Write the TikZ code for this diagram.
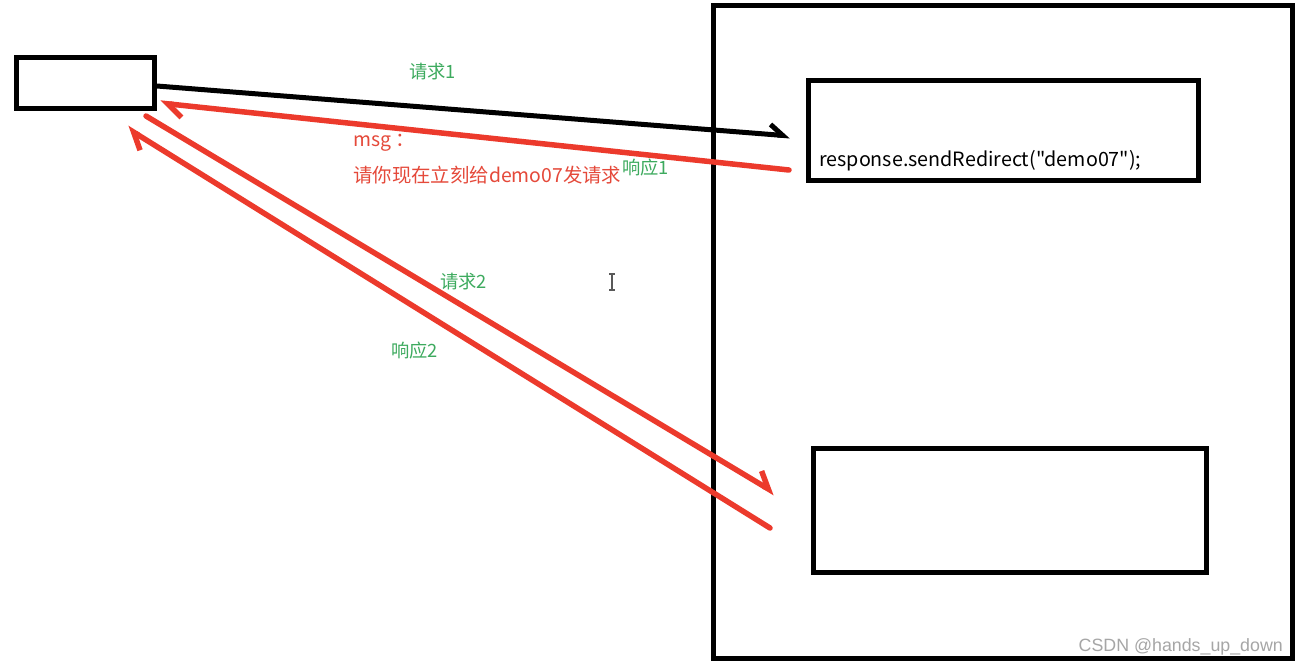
\documentclass[tikz,border=0pt]{standalone}
\usepackage{fontspec}
\setmainfont{Noto Sans CJK SC}
\newfontfamily\codefont{Noto Sans CJK SC}[Ligatures=TeXOff]
\newfontfamily\wmfont{Liberation Sans}
\usetikzlibrary{arrows.meta}
\definecolor{arrred}{HTML}{EC3A2C}
\definecolor{lblgreen}{HTML}{3DAA5E}
\definecolor{msgred}{HTML}{E5493A}
\begin{document}
\begin{tikzpicture}[x=1pt,y=1pt,
  box/.style={draw=black,line width=5pt,rectangle,inner sep=0pt},
  blackarr/.style={draw=black,line width=5pt,line cap=round,-{Straight Barb[harpoon,length=13pt,width=20pt,line width=5pt]}},
  redarr/.style={draw=arrred,line width=5.5pt,line cap=round,-{Straight Barb[harpoon,length=15pt,width=24pt,line width=5.5pt]}},
  lbl/.style={text=lblgreen,font=\fontsize{18.3}{20}\selectfont,inner sep=0pt,anchor=west},
  msg/.style={text=msgred,font=\fontsize{19.4}{22}\selectfont,inner sep=0pt,anchor=west}]
\useasboundingbox (0,0) rectangle (1297,-665);
\fill[white] (0,0) rectangle (1297,-665);
% boxes
\node[box,minimum width=138pt,minimum height=51pt] (client) at (85,-82.5) {};
\node[box,minimum width=579pt,minimum height=653pt] (server) at (1002.5,-331.5) {};
\node[box,minimum width=390pt,minimum height=100pt] (s1) at (1003,-130) {};
\node[box,minimum width=393pt,minimum height=124pt] (s2) at (1009.5,-510) {};
\node[anchor=base west,inner sep=0pt,font=\codefont\fontsize{19.7}{22}\selectfont] (code) at (819,-166) {response.sendRedirect("demo07");};
% connector endpoints
\coordinate (c1) at (157,-86);
\coordinate (s1in) at (790,-136);
\coordinate (s1out) at (789,-170);
\coordinate (c2) at (160,-103);
\coordinate (c3) at (146,-116);
\coordinate (s2in) at (775,-493);
\coordinate (s2out) at (770,-528);
\coordinate (c4) at (127,-128);
% arrows
\draw[blackarr] (c1) -- (s1in);
\draw[redarr] (s1out) -- (c2);
\draw[redarr] (c3) -- (s2in);
\draw[redarr] (s2out) -- (c4);
% labels
\node[lbl] (q1) at (409,-72) {请求1};
\node[lbl] (r1) at (622,-168) {响应1};
\node[lbl] (q2) at (440,-282) {请求2};
\node[lbl] (r2) at (391,-351) {响应2};
\node[msg] (m1) at (353,-143) {msg ：};
\node[msg] (m2) at (353,-175) {请你现在立刻给demo07发请求};
% I-beam cursor
\draw[line width=1.2pt,gray!70!black] (609,-274) -- (615,-274) (612,-274) -- (612,-290) (609,-290) -- (615,-290);
% watermark
\node[anchor=base east,inner sep=0pt,text=gray!70,font=\wmfont\fontsize{17.8}{20}\selectfont] (wm) at (1283,-651) {CSDN @hands\_up\_down};
\end{tikzpicture}
\end{document}
